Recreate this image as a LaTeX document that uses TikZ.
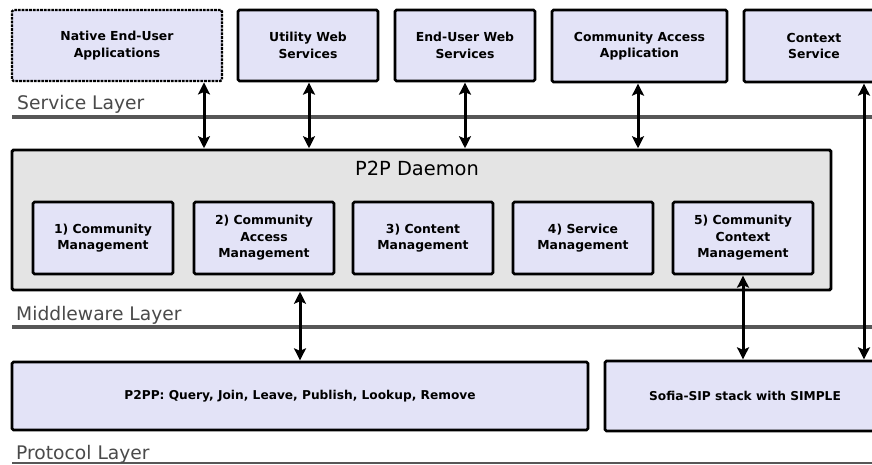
\documentclass[tikz,border=0pt]{standalone}
\usepackage{fontspec}
\setmainfont{DejaVu Sans}
\usetikzlibrary{arrows.meta}
\definecolor{boxfill}{HTML}{E3E3F7}
\definecolor{daemonfill}{HTML}{E4E4E4}
\definecolor{layerline}{HTML}{575757}
\definecolor{layertext}{HTML}{4A4A4A}
\tikzset{
  comp/.style={draw=black, line width=2.7pt, fill=boxfill, rounded corners=1.5pt,
    align=center, inner sep=0pt, font=\fontsize{12.4}{16.4}\selectfont\bfseries},
  proto/.style={comp, font=\fontsize{12.2}{15}\selectfont\bfseries},
  daemonbox/.style={draw=black, line width=2.9pt, fill=daemonfill, rounded corners=1.5pt, inner sep=0pt},
  layerlabel/.style={anchor=base west, inner sep=0pt, text=layertext, font=\fontsize{18.7}{22}\selectfont},
  layersep/.style={draw=layerline, line width=4.5pt},
  dbl/.style={line width=3pt, {Stealth[length=12pt,width=12pt,inset=2.5pt]}-{Stealth[length=12pt,width=12pt,inset=2.5pt]}, shorten <=0.3pt, shorten >=0.3pt}
}
\begin{document}
\begin{tikzpicture}[x=1pt,y=-1pt]
\useasboundingbox (0,0) rectangle (872,465);
\clip (0,0) rectangle (872,465);
\fill[white] (0,0) rectangle (872,465);

% top (service) boxes
\node[comp, densely dotted, line width=2.3pt, minimum width=210pt, minimum height=71pt] (nat) at (117,45.5) {Native End-User\\Applications};
\node[comp, minimum width=140pt, minimum height=71pt] (uws) at (308,45.5) {Utility Web\\Services};
\node[comp, minimum width=140pt, minimum height=71pt] (euw) at (465,45.5) {End-User Web\\Services};
\node[comp, minimum width=175pt, minimum height=72pt] (caa) at (639.5,46) {Community Access\\Application};
\node[comp, minimum width=140pt, minimum height=72pt] (ctx) at (814,46) {Context\\Service};

% layer separators and labels
\coordinate (sl0) at (12,117); \coordinate (sl1) at (880,117);
\draw[layersep] (sl0) -- (sl1);
\node[layerlabel] (slab) at (17,110) {Service Layer};

\coordinate (ml0) at (12,327); \coordinate (ml1) at (880,327);
\draw[layersep] (ml0) -- (ml1);
\node[layerlabel] (mlab) at (16,320) {Middleware Layer};

\coordinate (pl0) at (12,463); \coordinate (pl1) at (880,463);
\draw[draw=layerline, line width=1.8pt] (pl0) -- (pl1);
\node[layerlabel] (plab) at (16,459) {Protocol Layer};

% daemon
\node[daemonbox, minimum width=819pt, minimum height=140pt] (daemon) at (421.5,220) {};
\node[anchor=base, inner sep=0pt, font=\fontsize{19.4}{22}\selectfont] (dtitle) at (417,176) {P2P Daemon};

\node[comp, minimum width=140pt, minimum height=72pt] (m1) at (103,238) {1) Community\\Management};
\node[comp, minimum width=140pt, minimum height=72pt] (m2) at (264,238) {2) Community\\Access\\Management};
\node[comp, minimum width=140pt, minimum height=72pt] (m3) at (423,238) {3) Content\\Management};
\node[comp, minimum width=140pt, minimum height=72pt] (m4) at (583,238) {4) Service\\Management};
\node[comp, minimum width=140pt, minimum height=72pt] (m5) at (743,238) {5) Community\\Context\\Management};

% protocol boxes
\node[proto, minimum width=576pt, minimum height=68pt] (p2pp) at (300,396) {P2PP: Query, Join, Leave, Publish, Lookup, Remove};
\node[proto, minimum width=280pt, minimum height=70pt] (sofia) at (745,396) {Sofia-SIP stack with SIMPLE};

% arrow columns
\coordinate (c1) at (204,0);
\coordinate (c2) at (309,0);
\coordinate (c3) at (465,0);
\coordinate (c4) at (638,0);
\coordinate (c5) at (300,0);
\coordinate (c6) at (743,0);
\coordinate (c7) at (864,0);

\draw[dbl] (nat.south -| c1) -- (daemon.north -| c1);
\draw[dbl] (uws.south -| c2) -- (daemon.north -| c2);
\draw[dbl] (euw.south -| c3) -- (daemon.north -| c3);
\draw[dbl] (caa.south -| c4) -- (daemon.north -| c4);
\draw[dbl] (daemon.south -| c5) -- (p2pp.north -| c5);
\draw[dbl] (m5.south -| c6) -- (sofia.north -| c6);
\draw[dbl] (ctx.south -| c7) -- (sofia.north -| c7);
\end{tikzpicture}
\end{document}
